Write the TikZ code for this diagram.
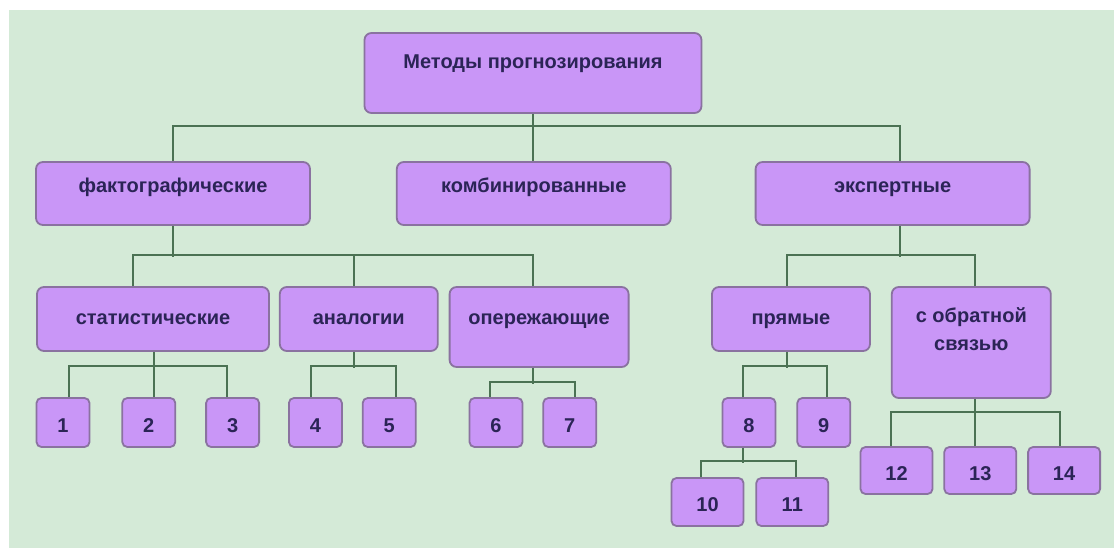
\documentclass[tikz,border=0pt]{standalone}
\usepackage{fontspec}
\setmainfont{Liberation Sans}
\usepackage{xcolor}
\definecolor{meadowBg}{HTML}{D4EAD7}
\definecolor{lilacFill}{HTML}{C996F7}
\definecolor{lilacEdge}{HTML}{8A72A0}
\definecolor{branchGreen}{HTML}{4B7253}
\definecolor{inkPlum}{HTML}{2B2456}
\usepackage{tikz}
\usetikzlibrary{positioning}

\begin{document}
\begin{tikzpicture}[
  x=1pt,y=-1pt,
  font=\fontsize{20}{23}\selectfont\bfseries,
  box/.style={draw=lilacEdge,fill=lilacFill,rounded corners=7pt,line width=1.8pt,
              text=inkPlum,align=center,inner sep=0pt},
  lvl1/.style={box,minimum width=274pt,minimum height=63pt,text height=14pt,text depth=16pt},
  lvl2/.style={box,minimum height=64pt,text height=14pt,text depth=4pt},
  leaf/.style={box,rounded corners=5pt,minimum width=53pt,minimum height=49pt,
               text height=19pt,text depth=0pt},
  wide/.style={leaf,minimum width=72pt,minimum height=48pt},
  link/.style={draw=branchGreen,line width=2pt}
]
\fill[white] (0,0) rectangle (1114,548);
\fill[meadowBg] (9,10) rectangle (1114,548);

\node[box,minimum width=337pt,minimum height=80pt,text depth=22pt] (meth) at (533,73)
  {Методы прогнозирования};

\node[lvl1] (fakt) at (173,193.5) {фактографические};
\node[lvl1, right=85pt of fakt] (komb) {комбинированные};
\node[lvl1, right=83pt of komb] (eksp) {экспертные};

\node[lvl2, minimum width=232pt] (stat) at (153,319) {статистические};
\node[lvl2, minimum width=158pt, right=9pt of stat] (anal) {аналогии};
\node[box, minimum width=179pt, minimum height=80pt, text height=14pt, text depth=20pt,
      right=10pt of anal.north east, anchor=north west] (oper) {опережающие};
\node[lvl2, minimum width=158pt] (pryam) at (791,319) {прямые};
\node[box, minimum width=159pt, minimum height=111pt, text depth=27pt,
      right=20pt of pryam.north east, anchor=north west] (obr) {с обратной\\[5pt]связью};

\node[leaf] (n1) at (63,422.5) {1};
\node[leaf, right=31pt of n1] (n2) {2};
\node[leaf, right=29pt of n2] (n3) {3};
\node[leaf, right=28pt of n3] (n4) {4};
\node[leaf, right=19pt of n4] (n5) {5};
\node[leaf] (n6) at (496,422.5) {6};
\node[leaf, right=19pt of n6] (n7) {7};
\node[leaf] (n8) at (749,422.5) {8};
\node[leaf, right=20pt of n8] (n9) {9};
\node[wide] (n10) at (707.5,502) {10};
\node[wide, right=11pt of n10] (n11) {11};
\node[wide, minimum height=47pt] (n12) at (896.5,470.5) {12};
\node[wide, minimum height=47pt, right=10pt of n12] (n13) {13};
\node[wide, minimum height=47pt, right=10pt of n13] (n14) {14};

% top level
\draw[link] (meth.south) -- (meth.south |- komb.north);
\draw[link] (fakt.north) -- ++(0,-35) -| (eksp.north -| 900,0);

% factographic branch
\draw[link] (fakt.south) -- ++(0,31);
\draw[link] (stat.north -| 133,0) -- ++(0,-31) -| (oper.north -| 533,0);
\draw[link] (anal.north -| 354,0) -- ++(0,-31);

% expert branch
\draw[link] (eksp.south -| 900,0) -- ++(0,31);
\draw[link] (pryam.north -| 787,0) -- ++(0,-31) -| (obr.north -| 975,0);

% leaves
\draw[link] (stat.south -| 154,0) -- ++(0,16);
\draw[link] (n1.north -| 69,0) -- ++(0,-31) -| (n3.north -| 227,0);
\draw[link] (n2.north -| 154,0) -- ++(0,-31);
\draw[link] (anal.south -| 354,0) -- ++(0,16);
\draw[link] (n4.north -| 311,0) -- ++(0,-31) -| (n5.north -| 396,0);
\draw[link] (oper.south -| 533,0) -- ++(0,16);
\draw[link] (n6.north -| 490,0) -- ++(0,-15) -| (n7.north -| 575,0);
\draw[link] (pryam.south -| 787,0) -- ++(0,16);
\draw[link] (n8.north -| 743,0) -- ++(0,-31) -| (n9.north -| 827,0);
\draw[link] (n8.south -| 743,0) -- ++(0,15);
\draw[link] (n10.north -| 701,0) -- ++(0,-16) -| (n11.north -| 796,0);
\draw[link] (obr.south -| 975,0) -- ++(0,15);
\draw[link] (n12.north -| 891,0) -- ++(0,-34) -| (n14.north -| 1060,0);
\draw[link] (n13.north -| 975,0) -- ++(0,-34);
\end{tikzpicture}
\end{document}
